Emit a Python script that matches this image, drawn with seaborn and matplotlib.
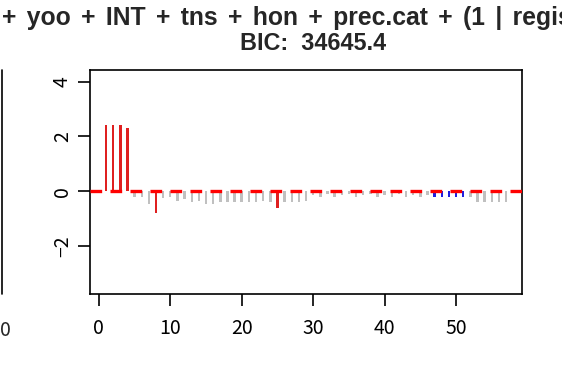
import matplotlib
matplotlib.use('Agg')
import matplotlib.pyplot as plt
from matplotlib.lines import Line2D
import pandas as pd
import seaborn as sns

# lag index and standardized values
lags = list(range(1, 58))
values = [2.41, 2.41, 2.41, 2.29, -0.20, -0.20, -0.45, -0.78, -0.25, -0.20,
          -0.35, -0.30, -0.40, -0.35, -0.45, -0.45, -0.40, -0.40, -0.40, -0.40,
          -0.40, -0.40, -0.35, -0.40, -0.62, -0.40, -0.40, -0.40, -0.35, -0.15,
          -0.20, -0.10, -0.20, -0.15, -0.10, -0.20, -0.15, -0.10, -0.20, -0.15,
          -0.20, -0.10, -0.20, -0.15, -0.20, -0.15, -0.20, -0.20, -0.20, -0.20,
          -0.20, -0.20, -0.40, -0.40, -0.40, -0.40, -0.40]
groups = (['sig'] * 4 + ['ns'] * 3 + ['sig'] + ['ns'] * 16 + ['sig']
          + ['ns'] * 21 + ['mid'] * 5 + ['ns'] * 6)

title_words = ['+', 'yoo', '+', 'INT', '+', 'tns', '+', 'hon', '+', 'prec.cat',
               '+', '(1', '|', 'regis']
title_line2 = "BIC:  34645.4"
x_ticks = [0, 10, 20, 30, 40, 50]
y_ticks = [-2, 0, 2, 4]

df = pd.DataFrame({'lag': lags, 'value': values, 'group': groups})
palette = {'sig': '#ff0000', 'ns': '#c0c0c0', 'mid': '#0000ff'}

sns.set_theme(style='ticks')
plt.rcParams['font.family'] = ['Noto Sans CJK JP', 'DejaVu Sans']

fig = plt.figure(figsize=(5.62, 3.91), dpi=100)
ax = fig.add_axes([90 / 562, 1 - 294 / 391, 432 / 562, 224 / 391])

sns.barplot(data=df, x='lag', y='value', hue='group', palette=palette,
            native_scale=True, width=0.34, linewidth=0, legend=False, ax=ax)
ax.axhline(0, color='red', lw=2.4, ls=(0, (3.5, 2.5)), zorder=3)

ax.set_xlim(-1.24, 59.24)
ax.set_ylim(-3.75, 4.42)
ax.set_xlabel('')
ax.set_ylabel('')
ax.set_xticks(x_ticks, labels=[str(t) for t in x_ticks], va='center')
ax.set_yticks(y_ticks, labels=[str(t).replace('-', '\u2212') for t in y_ticks],
              rotation=90, va='center', ha='center')
for s in ax.spines.values():
    s.set_visible(True)
    s.set_color('black')
    s.set_linewidth(1.2)
ax.tick_params(length=8.8, width=1.2, color='black', labelsize=14,
               labelcolor='black')
ax.tick_params(axis='x', pad=16)
ax.tick_params(axis='y', pad=11)

# title: first line runs past the right edge, as in the reference
title_font = ['Liberation Sans', 'DejaVu Sans']
fig.text(2 / 562, 1 - 18 / 391, '\u2004\u200a'.join(title_words), ha='left',
         va='center', fontsize=17.8, fontweight='bold', family=title_font)
fig.text(313 / 562, 1 - 43 / 391, title_line2, ha='center', va='center',
         fontsize=16.8, fontweight='bold', family=title_font)

# edge of the neighbouring panel
fig.add_artist(Line2D([1.5 / 562, 1.5 / 562], [1 - 70 / 391, 1 - 294 / 391],
                      transform=fig.transFigure, color='black', lw=1.2))
fig.text(5 / 562, 1 - 330 / 391, '0', ha='center', va='center', fontsize=14)

fig.savefig('out.png', dpi=100)
plt.close(fig)
